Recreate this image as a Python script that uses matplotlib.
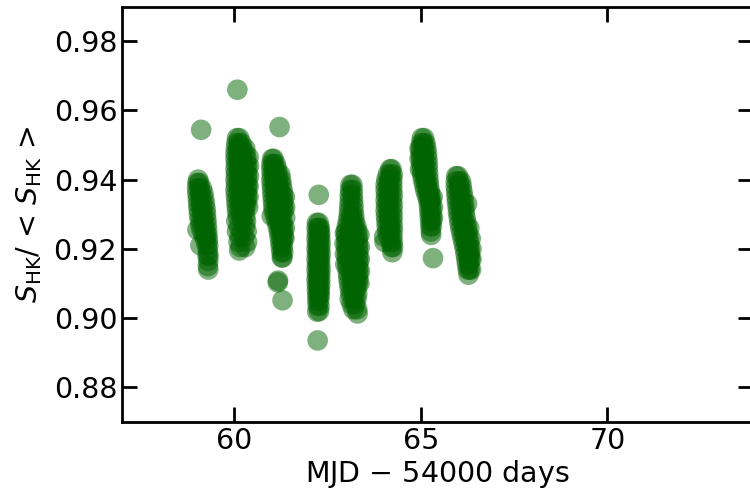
import numpy as np
import matplotlib
matplotlib.use("Agg")
import matplotlib.pyplot as plt

# S_HK / <S_HK> per night, points as (MJD - 54000, ratio)
night1 = [
    (59.04, 0.9400),
    (59.02, 0.9390), (59.07, 0.9390),
    (59.01, 0.9375), (59.08, 0.9375), (59.14, 0.9375),
    (59.02, 0.9360), (59.10, 0.9360), (59.18, 0.9360),
    (59.03, 0.9345), (59.11, 0.9345), (59.20, 0.9345),
    (59.04, 0.9330), (59.12, 0.9330), (59.22, 0.9330),
    (59.05, 0.9315), (59.14, 0.9315), (59.24, 0.9315),
    (59.06, 0.9300), (59.15, 0.9300), (59.25, 0.9300),
    (59.08, 0.9285), (59.17, 0.9285), (59.26, 0.9285),
    (59.10, 0.9270), (59.19, 0.9270), (59.27, 0.9270),
    (59.02, 0.9255), (59.13, 0.9255), (59.22, 0.9255), (59.28, 0.9255),
    (59.18, 0.9240), (59.25, 0.9240), (59.29, 0.9240),
    (59.23, 0.9225), (59.30, 0.9225),
    (59.10, 0.9210), (59.27, 0.9210), (59.31, 0.9210),
    (59.30, 0.9195),
    (59.29, 0.9180), (59.32, 0.9180),
    (59.31, 0.9165), (59.30, 0.9150), (59.31, 0.9140),
    (59.12, 0.9544),
]

night2 = [
    (60.08, 0.9520), (60.14, 0.9520),
    (60.06, 0.9505), (60.13, 0.9505), (60.20, 0.9505),
    (60.05, 0.9490), (60.12, 0.9490), (60.22, 0.9490), (60.30, 0.9490),
    (60.04, 0.9475), (60.11, 0.9475), (60.20, 0.9475), (60.31, 0.9475),
    (60.04, 0.9460), (60.12, 0.9460), (60.22, 0.9460), (60.33, 0.9460),
    (60.05, 0.9445), (60.13, 0.9445), (60.24, 0.9445), (60.34, 0.9445),
    (60.04, 0.9430), (60.14, 0.9430), (60.25, 0.9430), (60.35, 0.9430),
    (60.05, 0.9415), (60.15, 0.9415), (60.26, 0.9415), (60.35, 0.9415),
    (60.04, 0.9400), (60.14, 0.9400), (60.25, 0.9400), (60.35, 0.9400),
    (60.05, 0.9385), (60.15, 0.9385), (60.26, 0.9385), (60.36, 0.9385),
    (60.04, 0.9370), (60.14, 0.9370), (60.26, 0.9370), (60.35, 0.9370),
    (60.05, 0.9355), (60.15, 0.9355), (60.27, 0.9355), (60.35, 0.9355),
    (60.06, 0.9340), (60.16, 0.9340), (60.27, 0.9340), (60.34, 0.9340),
    (60.07, 0.9325), (60.17, 0.9325), (60.28, 0.9325), (60.33, 0.9325),
    (60.08, 0.9310), (60.18, 0.9310), (60.28, 0.9310),
    (60.10, 0.9295), (60.20, 0.9295), (60.30, 0.9295),
    (60.06, 0.9280), (60.22, 0.9280), (60.32, 0.9280),
    (60.12, 0.9265), (60.30, 0.9265),
    (60.08, 0.9250), (60.20, 0.9250), (60.34, 0.9250),
    (60.15, 0.9235), (60.28, 0.9235),
    (60.12, 0.9220), (60.35, 0.9220),
    (60.17, 0.9205), (60.30, 0.9205),
    (60.14, 0.9195),
    (60.39, 0.9465), (60.40, 0.9440), (60.40, 0.9410), (60.39, 0.9380),
    (60.39, 0.9350), (60.38, 0.9320),
    (60.09, 0.9660),
]

night3 = [
    (61.02, 0.9460), (61.06, 0.9460),
    (61.00, 0.9445), (61.06, 0.9445), (61.12, 0.9445),
    (61.00, 0.9430), (61.07, 0.9430), (61.15, 0.9430),
    (61.01, 0.9415), (61.08, 0.9415), (61.17, 0.9415), (61.24, 0.9415),
    (61.00, 0.9400), (61.09, 0.9400), (61.18, 0.9400), (61.26, 0.9400),
    (61.01, 0.9385), (61.10, 0.9385), (61.19, 0.9385), (61.28, 0.9385),
    (61.02, 0.9370), (61.11, 0.9370), (61.21, 0.9370), (61.30, 0.9370),
    (61.03, 0.9355), (61.12, 0.9355), (61.22, 0.9355), (61.31, 0.9355),
    (61.04, 0.9340), (61.14, 0.9340), (61.23, 0.9340), (61.32, 0.9340),
    (61.05, 0.9325), (61.15, 0.9325), (61.24, 0.9325), (61.32, 0.9325),
    (61.06, 0.9310), (61.16, 0.9310), (61.25, 0.9310), (61.33, 0.9310),
    (61.01, 0.9295), (61.10, 0.9295), (61.18, 0.9295), (61.27, 0.9295),
    (61.14, 0.9280), (61.21, 0.9280), (61.29, 0.9280),
    (61.17, 0.9265), (61.24, 0.9265), (61.31, 0.9265),
    (61.20, 0.9250), (61.26, 0.9250), (61.32, 0.9250),
    (61.22, 0.9235), (61.28, 0.9235), (61.33, 0.9235),
    (61.24, 0.9220), (61.30, 0.9220),
    (61.25, 0.9205), (61.31, 0.9205),
    (61.27, 0.9190), (61.32, 0.9190),
    (61.28, 0.9175), (61.30, 0.9175),
    (61.36, 0.9350), (61.37, 0.9320), (61.37, 0.9290), (61.36, 0.9260),
    (61.35, 0.9230),
    (61.17, 0.9103), (61.18, 0.9108), (61.30, 0.9051),
    (61.22, 0.9552),
]

night4 = [
    (62.22, 0.9275), (62.27, 0.9275),
    (62.21, 0.9260), (62.27, 0.9260), (62.30, 0.9260),
    (62.22, 0.9245), (62.28, 0.9245), (62.31, 0.9245),
    (62.21, 0.9230), (62.27, 0.9230), (62.31, 0.9230),
    (62.22, 0.9215), (62.27, 0.9215), (62.32, 0.9215),
    (62.21, 0.9200), (62.26, 0.9200), (62.31, 0.9200),
    (62.22, 0.9185), (62.27, 0.9185), (62.32, 0.9185),
    (62.21, 0.9170), (62.27, 0.9170), (62.31, 0.9170),
    (62.22, 0.9155), (62.26, 0.9155), (62.31, 0.9155),
    (62.21, 0.9140), (62.27, 0.9140), (62.32, 0.9140),
    (62.22, 0.9125), (62.27, 0.9125), (62.31, 0.9125),
    (62.21, 0.9110), (62.26, 0.9110), (62.31, 0.9110),
    (62.22, 0.9095), (62.27, 0.9095), (62.31, 0.9095),
    (62.22, 0.9080), (62.27, 0.9080), (62.30, 0.9080),
    (62.23, 0.9065), (62.27, 0.9065), (62.30, 0.9065),
    (62.23, 0.9050), (62.28, 0.9050),
    (62.24, 0.9035), (62.29, 0.9035),
    (62.23, 0.9018), (62.28, 0.9020),
    (62.27, 0.9356), (62.24, 0.8935),
]

night5 = [
    (63.12, 0.9385), (63.17, 0.9385),
    (63.11, 0.9370), (63.18, 0.9370),
    (63.10, 0.9355), (63.18, 0.9355),
    (63.10, 0.9340), (63.19, 0.9340),
    (63.09, 0.9325), (63.20, 0.9325),
    (63.08, 0.9310), (63.20, 0.9310),
    (63.07, 0.9295), (63.15, 0.9295), (63.22, 0.9295),
    (63.05, 0.9280), (63.14, 0.9280), (63.23, 0.9280),
    (63.02, 0.9265), (63.12, 0.9265), (63.22, 0.9265), (63.28, 0.9265),
    (63.00, 0.9250), (63.10, 0.9250), (63.20, 0.9250), (63.30, 0.9250),
    (63.00, 0.9235), (63.10, 0.9235), (63.20, 0.9235), (63.31, 0.9235),
    (63.01, 0.9220), (63.11, 0.9220), (63.21, 0.9220), (63.32, 0.9220),
    (63.01, 0.9205), (63.11, 0.9205), (63.21, 0.9205), (63.32, 0.9205),
    (63.02, 0.9190), (63.12, 0.9190), (63.22, 0.9190), (63.33, 0.9190),
    (63.02, 0.9175), (63.12, 0.9175), (63.22, 0.9175), (63.33, 0.9175),
    (63.03, 0.9160), (63.13, 0.9160), (63.23, 0.9160), (63.33, 0.9160),
    (63.04, 0.9145), (63.14, 0.9145), (63.24, 0.9145), (63.33, 0.9145),
    (63.05, 0.9130), (63.15, 0.9130), (63.25, 0.9130), (63.33, 0.9130),
    (63.06, 0.9115), (63.16, 0.9115), (63.26, 0.9115), (63.33, 0.9115),
    (63.08, 0.9100), (63.17, 0.9100), (63.27, 0.9100), (63.32, 0.9100),
    (63.10, 0.9085), (63.18, 0.9085), (63.28, 0.9085),
    (63.12, 0.9070), (63.22, 0.9070), (63.30, 0.9070),
    (63.10, 0.9055), (63.20, 0.9055), (63.28, 0.9055),
    (63.15, 0.9040), (63.25, 0.9040),
    (63.20, 0.9025), (63.30, 0.9025),
    (62.97, 0.9245), (62.96, 0.9215), (62.97, 0.9185), (62.98, 0.9155),
    (63.36, 0.9240), (63.37, 0.9205), (63.37, 0.9170), (63.37, 0.9135),
    (63.36, 0.9100),
    (63.31, 0.9013),
]

night6 = [
    (64.18, 0.9430), (64.22, 0.9430),
    (64.12, 0.9415), (64.20, 0.9415), (64.25, 0.9415),
    (64.08, 0.9400), (64.16, 0.9400), (64.24, 0.9400),
    (64.06, 0.9385), (64.14, 0.9385), (64.24, 0.9385),
    (64.06, 0.9370), (64.15, 0.9370), (64.24, 0.9370),
    (64.07, 0.9355), (64.15, 0.9355), (64.25, 0.9355),
    (64.06, 0.9340), (64.14, 0.9340), (64.24, 0.9340),
    (64.07, 0.9325), (64.15, 0.9325), (64.25, 0.9325),
    (64.06, 0.9310), (64.15, 0.9310), (64.24, 0.9310),
    (64.07, 0.9295), (64.16, 0.9295), (64.25, 0.9295),
    (64.08, 0.9280), (64.16, 0.9280), (64.24, 0.9280),
    (64.09, 0.9265), (64.17, 0.9265), (64.25, 0.9265),
    (64.10, 0.9250), (64.18, 0.9250), (64.25, 0.9250),
    (64.02, 0.9235), (64.14, 0.9235), (64.24, 0.9235),
    (64.03, 0.9220), (64.20, 0.9220), (64.25, 0.9220),
    (64.22, 0.9205), (64.26, 0.9205),
    (64.24, 0.9190),
]

night7 = [
    (65.03, 0.9520), (65.09, 0.9520),
    (65.01, 0.9505), (65.07, 0.9505), (65.13, 0.9505),
    (65.00, 0.9490), (65.08, 0.9490), (65.15, 0.9490),
    (65.00, 0.9475), (65.08, 0.9475), (65.17, 0.9475),
    (65.01, 0.9460), (65.09, 0.9460), (65.18, 0.9460),
    (65.02, 0.9445), (65.10, 0.9445), (65.19, 0.9445),
    (65.03, 0.9430), (65.11, 0.9430), (65.19, 0.9430),
    (65.04, 0.9415), (65.12, 0.9415), (65.20, 0.9415),
    (65.06, 0.9400), (65.14, 0.9400), (65.21, 0.9400),
    (65.09, 0.9385), (65.16, 0.9385), (65.22, 0.9385),
    (65.12, 0.9370), (65.19, 0.9370), (65.24, 0.9370),
    (65.16, 0.9355), (65.22, 0.9355), (65.26, 0.9355),
    (65.20, 0.9340), (65.25, 0.9340), (65.28, 0.9340),
    (65.22, 0.9325), (65.28, 0.9325),
    (65.23, 0.9310), (65.29, 0.9310),
    (65.24, 0.9295), (65.29, 0.9295),
    (65.25, 0.9280), (65.30, 0.9280),
    (65.26, 0.9265), (65.30, 0.9265),
    (65.27, 0.9250), (65.28, 0.9240),
    (64.97, 0.9490), (64.97, 0.9460), (64.98, 0.9430),
    (65.32, 0.9350), (65.33, 0.9320), (65.33, 0.9290),
    (65.33, 0.9173),
]

night8 = [
    (65.95, 0.9410), (66.00, 0.9410),
    (65.94, 0.9395), (66.02, 0.9395), (66.08, 0.9395),
    (65.94, 0.9380), (66.03, 0.9380), (66.10, 0.9380),
    (65.95, 0.9365), (66.04, 0.9365), (66.12, 0.9365),
    (65.96, 0.9350), (66.05, 0.9350), (66.14, 0.9350),
    (65.97, 0.9335), (66.06, 0.9335), (66.15, 0.9335), (66.24, 0.9330),
    (65.99, 0.9320), (66.08, 0.9320), (66.17, 0.9320),
    (66.00, 0.9305), (66.09, 0.9305), (66.18, 0.9305),
    (66.02, 0.9290), (66.11, 0.9290), (66.20, 0.9290),
    (66.04, 0.9275), (66.13, 0.9275), (66.22, 0.9275),
    (66.06, 0.9260), (66.15, 0.9260), (66.24, 0.9260),
    (66.09, 0.9245), (66.17, 0.9245), (66.26, 0.9245),
    (66.12, 0.9230), (66.20, 0.9230), (66.28, 0.9230),
    (66.15, 0.9215), (66.23, 0.9215), (66.30, 0.9215),
    (66.18, 0.9200), (66.26, 0.9200), (66.31, 0.9200),
    (66.20, 0.9185), (66.28, 0.9185), (66.32, 0.9185),
    (66.22, 0.9170), (66.29, 0.9170), (66.33, 0.9170),
    (66.24, 0.9155), (66.30, 0.9155),
    (66.26, 0.9140), (66.31, 0.9140),
    (66.28, 0.9125),
    (66.30, 0.9260), (66.34, 0.9230), (66.36, 0.9200), (66.36, 0.9170),
    (66.35, 0.9140),
]

nights = [night1, night2, night3, night4, night5, night6, night7, night8]

xticks = [60, 65, 70]
yticks = [0.88, 0.90, 0.92, 0.94, 0.96, 0.98]

fig = plt.figure(figsize=(7.5, 4.94), dpi=100)
# axes runs slightly past the right edge, as in the cropped original
ax = fig.add_axes([122 / 750, 72.3 / 494, 631 / 750, 415 / 494])

for pts in nights:
    t, s = np.array(pts).T
    ax.scatter(t, s, s=220, color="darkgreen", alpha=0.5, edgecolors="none")

ax.set_xlim(57, 73.9)
ax.set_ylim(0.87, 0.99)
ax.set_xticks(xticks)
ax.set_yticks(yticks)
ax.set_yticklabels([f"{v:.2f}" for v in yticks])
ax.tick_params(which="both", direction="in", top=True, right=True,
               length=11, width=2, labelsize=20.5)
ax.tick_params(axis="x", pad=4)
ax.tick_params(axis="y", pad=3.5)
for sp in ax.spines.values():
    sp.set_linewidth(2)

ax.set_xlabel(r"MJD $-$ 54000 days", fontsize=20.5, labelpad=2)
ax.set_ylabel(r"$S_{\rm HK}$/ < $S_{\rm HK}$ >", fontsize=20.5, labelpad=7)

fig.savefig("out.png", dpi=100)
plt.close(fig)
